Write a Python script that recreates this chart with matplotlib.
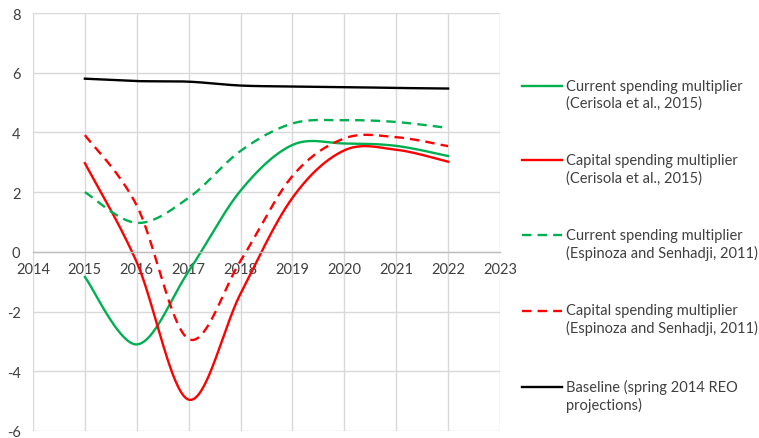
import numpy as np
import matplotlib
matplotlib.use("Agg")
import matplotlib.pyplot as plt
from matplotlib.legend_handler import HandlerLine2D

plt.rcParams['font.family'] = ['Lato', 'DejaVu Sans']
plt.rcParams['axes.unicode_minus'] = False

years = [2015, 2016, 2017, 2018, 2019, 2020, 2021, 2022]
current_cerisola = [-0.84, -3.1, -0.65, 2.05, 3.58, 3.63, 3.55, 3.21]
capital_cerisola = [2.97, -0.35, -4.95, -1.4, 1.81, 3.4, 3.42, 3.02]
current_espinoza = [2.0, 0.97, 1.81, 3.38, 4.3, 4.41, 4.35, 4.15]
capital_espinoza = [3.91, 1.55, -2.92, -0.3, 2.54, 3.8, 3.84, 3.54]
baseline = [5.8, 5.72, 5.7, 5.57, 5.54, 5.52, 5.49, 5.47]

labels = [
    "Current spending multiplier\n(Cerisola et al., 2015)",
    "Capital spending multiplier\n(Cerisola et al., 2015)",
    "Current spending multiplier\n(Espinoza and Senhadji, 2011)",
    "Capital spending multiplier\n(Espinoza and Senhadji, 2011)",
    "Baseline (spring 2014 REO\nprojections)",
]

GREEN = "#00B050"
RED = "#FF0000"
GRID = "#D9D9D9"
TXT = "#404040"


# excel-like smoothed line: bezier segments with catmull-rom control points
def smooth(xs, ys, n=40):
    p = np.column_stack([xs, ys]).astype(float)
    out = [p[0]]
    for i in range(len(p) - 1):
        p0 = p[i - 1] if i > 0 else p[i]
        p1, p2 = p[i], p[i + 1]
        p3 = p[i + 2] if i + 2 < len(p) else p[i + 1]
        c1 = p1 + (p2 - p0) / 6
        c2 = p2 - (p3 - p1) / 6
        t = np.linspace(0, 1, n)[1:, None]
        seg = ((1 - t) ** 3) * p1 + 3 * ((1 - t) ** 2) * t * c1 + 3 * (1 - t) * t ** 2 * c2 + t ** 3 * p2
        out.extend(seg)
    out = np.array(out)
    return out[:, 0], out[:, 1]


# legend handle sits on the first text line, like excel does
class FirstLineHandler(HandlerLine2D):
    def create_artists(self, legend, orig_handle, xdescent, ydescent,
                       width, height, fontsize, trans):
        arts = super().create_artists(legend, orig_handle, xdescent, ydescent,
                                      width, height, fontsize, trans)
        for a in arts:
            a.set_ydata(np.asarray(a.get_ydata()) + fontsize * 0.62)
        return arts


fig = plt.figure(figsize=(7.59, 4.39), dpi=100)
ax = fig.add_axes([33 / 759, 1 - 432 / 439, 467 / 759, 418 / 439])

dash = (0, (4, 2.6))
series = [
    (current_cerisola, GREEN, "-"),
    (capital_cerisola, RED, "-"),
    (current_espinoza, GREEN, dash),
    (capital_espinoza, RED, dash),
    (baseline, "black", "-"),
]
for (vals, col, ls), lab in zip(series, labels):
    sx, sy = smooth(years, vals)
    ax.plot(sx, sy, color=col, linestyle=ls, lw=1.7, label=lab)

ax.set_xlim(2014, 2023)
ax.set_ylim(-6, 8)
ax.set_xticks(range(2014, 2024))
ax.set_yticks(range(-6, 9, 2))
ax.grid(True, color=GRID, lw=1.0)
ax.set_axisbelow(True)
for s in ["top", "right", "left"]:
    ax.spines[s].set_visible(False)
ax.spines["bottom"].set_position(("data", 0))
ax.spines["bottom"].set_color("#BFBFBF")
ax.spines["bottom"].set_linewidth(1.0)
ax.tick_params(axis="x", length=0, pad=7, labelsize=10.5, labelcolor=TXT)
ax.tick_params(axis="y", length=0, pad=9, labelsize=10.5, labelcolor=TXT)

leg = ax.legend(loc="upper left", bbox_to_anchor=(522 / 759, 1 - 80 / 439),
                bbox_transform=fig.transFigure, frameon=False, fontsize=10.5,
                handlelength=2.75, handletextpad=0.3, labelspacing=2.97,
                borderaxespad=0, borderpad=0, labelcolor=TXT,
                handler_map={matplotlib.lines.Line2D: FirstLineHandler()})
for t in leg.get_texts():
    t.set_linespacing(1.25)

fig.savefig("out.png", dpi=100)
